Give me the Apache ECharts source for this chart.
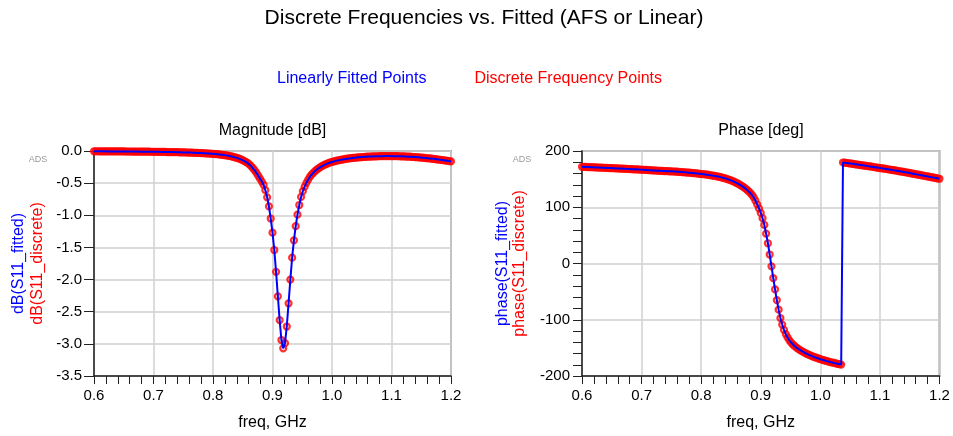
<!DOCTYPE html>
<html><head><meta charset="utf-8">
<script src="https://cdn.jsdelivr.net/npm/echarts@6/dist/echarts.min.js"></script>
<style>html,body{margin:0;padding:0;background:#fff}#c{width:953px;height:436px}</style>
</head><body><div id="c"></div>
<script>
// Frequencies, GHz
const freq = [
0.600,0.603,0.606,0.609,0.612,0.615,0.618,0.621,0.624,0.627,
0.630,0.633,0.636,0.639,0.642,0.645,0.648,0.651,0.654,0.657,
0.660,0.663,0.666,0.669,0.672,0.675,0.678,0.681,0.684,0.687,
0.690,0.693,0.696,0.699,0.702,0.705,0.708,0.711,0.714,0.717,
0.720,0.723,0.726,0.729,0.732,0.735,0.738,0.741,0.744,0.747,
0.750,0.753,0.756,0.759,0.762,0.765,0.768,0.771,0.774,0.777,
0.780,0.783,0.786,0.789,0.792,0.795,0.798,0.801,0.804,0.807,
0.810,0.813,0.816,0.819,0.822,0.825,0.828,0.831,0.834,0.837,
0.840,0.843,0.846,0.849,0.852,0.855,0.858,0.861,0.864,0.867,
0.870,0.873,0.876,0.879,0.882,0.885,0.888,0.891,0.894,0.897,
0.900,0.903,0.906,0.909,0.912,0.915,0.918,0.921,0.924,0.927,
0.930,0.933,0.936,0.939,0.942,0.945,0.948,0.951,0.954,0.957,
0.960,0.963,0.966,0.969,0.972,0.975,0.978,0.981,0.984,0.987,
0.990,0.993,0.996,0.999,1.002,1.005,1.008,1.011,1.014,1.017,
1.020,1.023,1.026,1.029,1.032,1.035,1.038,1.041,1.044,1.047,
1.050,1.053,1.056,1.059,1.062,1.065,1.068,1.071,1.074,1.077,
1.080,1.083,1.086,1.089,1.092,1.095,1.098,1.101,1.104,1.107,
1.110,1.113,1.116,1.119,1.122,1.125,1.128,1.131,1.134,1.137,
1.140,1.143,1.146,1.149,1.152,1.155,1.158,1.161,1.164,1.167,
1.170,1.173,1.176,1.179,1.182,1.185,1.188,1.191,1.194,1.197,
1.200];

// dB(S11) values
const magDb = [
-0.004,-0.004,-0.004,-0.005,-0.005,-0.005,-0.005,-0.005,-0.006,-0.006,
-0.006,-0.006,-0.006,-0.007,-0.007,-0.007,-0.007,-0.007,-0.008,-0.008,
-0.008,-0.008,-0.009,-0.009,-0.009,-0.009,-0.010,-0.010,-0.010,-0.011,
-0.011,-0.011,-0.012,-0.012,-0.012,-0.013,-0.013,-0.014,-0.014,-0.015,
-0.015,-0.016,-0.016,-0.017,-0.017,-0.018,-0.019,-0.019,-0.020,-0.021,
-0.022,-0.022,-0.023,-0.024,-0.025,-0.026,-0.027,-0.028,-0.030,-0.031,
-0.032,-0.034,-0.035,-0.037,-0.039,-0.041,-0.043,-0.045,-0.048,-0.050,
-0.053,-0.056,-0.060,-0.064,-0.068,-0.073,-0.078,-0.084,-0.091,-0.098,
-0.107,-0.116,-0.127,-0.139,-0.153,-0.168,-0.186,-0.208,-0.235,-0.265,
-0.300,-0.340,-0.385,-0.430,-0.475,-0.525,-0.610,-0.720,-0.860,-1.050,
-1.270,-1.540,-1.880,-2.260,-2.630,-2.940,-3.070,-2.990,-2.730,-2.370,
-2.000,-1.660,-1.390,-1.170,-0.990,-0.840,-0.715,-0.625,-0.555,-0.495,
-0.445,-0.400,-0.365,-0.335,-0.308,-0.285,-0.265,-0.247,-0.231,-0.217,
-0.204,-0.192,-0.182,-0.173,-0.165,-0.157,-0.150,-0.144,-0.138,-0.133,
-0.128,-0.123,-0.119,-0.115,-0.111,-0.108,-0.105,-0.102,-0.099,-0.097,
-0.095,-0.093,-0.091,-0.089,-0.087,-0.086,-0.085,-0.084,-0.083,-0.082,
-0.081,-0.080,-0.080,-0.079,-0.079,-0.079,-0.079,-0.079,-0.080,-0.080,
-0.081,-0.082,-0.083,-0.084,-0.085,-0.086,-0.088,-0.089,-0.091,-0.093,
-0.095,-0.097,-0.099,-0.102,-0.104,-0.107,-0.110,-0.113,-0.116,-0.119,
-0.122,-0.125,-0.129,-0.132,-0.136,-0.140,-0.144,-0.148,-0.152,-0.157,
-0.162];

// phase(S11) values, degrees
const phaseDeg = [
172.0,171.8,171.7,171.5,171.4,171.2,171.1,170.9,170.8,170.6,
170.5,170.3,170.2,170.0,169.9,169.7,169.6,169.4,169.3,169.1,
169.0,168.8,168.7,168.5,168.3,168.2,168.0,167.8,167.7,167.5,
167.4,167.2,167.0,166.8,166.7,166.5,166.3,166.1,165.9,165.7,
165.5,165.3,165.1,164.9,164.7,164.5,164.4,164.2,164.1,163.9,
163.8,163.6,163.4,163.2,163.0,162.7,162.5,162.2,162.0,161.7,
161.4,161.1,160.8,160.5,160.2,159.8,159.5,159.1,158.7,158.3,
157.9,157.4,156.9,156.4,155.8,155.2,154.6,153.9,153.1,152.3,
151.4,150.4,149.3,148.1,146.8,145.4,143.9,142.3,140.6,138.7,
136.6,134.3,131.8,129.0,125.9,122.4,118.0,112.0,105.0,98.0,
90.0,80.5,68.5,53.0,36.0,16.0,-5.0,-26.0,-46.0,-65.0,
-82.0,-97.0,-108.5,-118.0,-125.5,-131.5,-136.5,-140.5,-144.0,-147.0,
-149.5,-151.8,-153.9,-155.8,-157.6,-159.3,-160.9,-162.4,-163.8,-165.1,
-166.3,-167.5,-168.6,-169.7,-170.7,-171.7,-172.6,-173.5,-174.4,-175.2,
-176.0,-176.8,-177.6,-178.3,-179.0,-179.7,179.6,179.2,178.7,178.3,
177.8,177.4,176.9,176.4,176.0,175.5,175.0,174.6,174.1,173.6,
173.1,172.6,172.1,171.6,171.1,170.6,170.1,169.6,169.1,168.6,
168.1,167.6,167.1,166.6,166.0,165.5,165.0,164.4,163.9,163.3,
162.8,162.2,161.6,161.0,160.4,159.8,159.2,158.6,158.0,157.4,
156.8,156.2,155.6,154.9,154.3,153.7,153.1,152.5,151.9,151.3,
150.7];

const FONT = "'Liberation Sans', Arial, Helvetica, sans-serif";
const BLUE = '#0000ff', RED = '#ff0000';

function pairs(ys) { return freq.map((f, i) => [f, ys[i]]); }

function xAxisCfg(idx) {
  return {
    type: 'value', gridIndex: idx, min: 0.6, max: 1.2, interval: 0.1,
    axisLine: { show: true, onZero: false, lineStyle: { color: '#222', width: 1.5 } },
    axisTick: { show: true, length: 8, lineStyle: { color: '#222', width: 1 } },
    minorTick: { show: true, splitNumber: 5, length: 8, lineStyle: { color: '#222', width: 1 } },
    splitLine: { show: true, lineStyle: { color: '#d0d0d0', width: 1.5 } },
    axisLabel: { formatter: v => v.toFixed(1), fontSize: 15, color: '#000', margin: 12, fontFamily: FONT },
    name: 'freq, GHz', nameLocation: 'middle', nameGap: 39,
    nameTextStyle: { fontSize: 16, color: '#000', fontFamily: FONT }
  };
}

const markerStyle = { color: 'rgba(255,0,0,0.15)', borderColor: RED, borderWidth: 2.2 };

const chart = echarts.init(document.getElementById('c'), null, { renderer: 'canvas' });
const option = {
  animation: false,
  backgroundColor: '#fff',
  textStyle: { fontFamily: FONT },
  legend: {
    left: 267, top: 66, icon: 'none', itemWidth: 0, itemHeight: 16, itemGap: 43,
    selectedMode: false,
    textStyle: { fontSize: 16, fontFamily: FONT },
    data: [
      { name: 'Linearly Fitted Points', textStyle: { color: BLUE } },
      { name: 'Discrete Frequency Points', textStyle: { color: RED } }
    ]
  },
  graphic: [
    { type: 'text', x: 484, y: 18, style: { text: 'Discrete Frequencies vs. Fitted (AFS or Linear)', fontSize: 21, fontFamily: FONT, fill: '#000', textAlign: 'center', textVerticalAlign: 'middle' } },
    { type: 'text', x: 272.5, y: 131, style: { text: 'Magnitude [dB]', fontSize: 16, fontFamily: FONT, fill: '#000', textAlign: 'center', textVerticalAlign: 'middle' } },
    { type: 'text', x: 761, y: 131, style: { text: 'Phase [deg]', fontSize: 16, fontFamily: FONT, fill: '#000', textAlign: 'center', textVerticalAlign: 'middle' } },
    { type: 'text', x: 38, y: 160, style: { text: 'ADS', fontSize: 9, fontFamily: FONT, fill: '#9a9a9a', textAlign: 'center', textVerticalAlign: 'middle' } },
    { type: 'text', x: 522, y: 160, style: { text: 'ADS', fontSize: 9, fontFamily: FONT, fill: '#9a9a9a', textAlign: 'center', textVerticalAlign: 'middle' } }
  ],
  grid: [
    { left: 94, top: 151, width: 357, height: 226, show: true, borderColor: '#9a9a9a', borderWidth: 2, backgroundColor: 'transparent' },
    { left: 582, top: 151, width: 357.5, height: 226, show: true, borderColor: '#9a9a9a', borderWidth: 2, backgroundColor: 'transparent' }
  ],
  xAxis: [xAxisCfg(0), xAxisCfg(1)],
  yAxis: [
    {
      type: 'value', gridIndex: 0, min: -3.5, max: 0, interval: 0.5,
      axisLine: { show: true, onZero: false, lineStyle: { color: '#222', width: 1.5 } },
      axisTick: { show: true, length: 10, lineStyle: { color: '#222', width: 1 } },
      splitLine: { show: true, lineStyle: { color: '#d0d0d0', width: 1.5 } },
      axisLabel: { formatter: v => v.toFixed(1), fontSize: 15, color: '#000', margin: 12, fontFamily: FONT },
      name: '{b|dB(S11_fitted)}\n{r|dB(S11_discrete)}',
      nameLocation: 'middle', nameRotate: 90, nameGap: 47,
      nameTextStyle: { fontFamily: FONT, rich: {
        b: { color: BLUE, fontSize: 16, lineHeight: 19, fontFamily: FONT },
        r: { color: RED, fontSize: 16, lineHeight: 19, fontFamily: FONT } } }
    },
    {
      type: 'value', gridIndex: 1, min: -200, max: 200, interval: 100,
      axisLine: { show: true, onZero: false, lineStyle: { color: '#222', width: 1.5 } },
      axisTick: { show: true, length: 9, lineStyle: { color: '#222', width: 1 } },
      minorTick: { show: true, splitNumber: 5, length: 9, lineStyle: { color: '#222', width: 1 } },
      splitLine: { show: true, lineStyle: { color: '#d0d0d0', width: 1.5 } },
      axisLabel: { fontSize: 15, color: '#000', margin: 12, fontFamily: FONT },
      name: '{b|phase(S11_fitted)}\n{r|phase(S11_discrete)}',
      nameLocation: 'middle', nameRotate: 90, nameGap: 54,
      nameTextStyle: { fontFamily: FONT, rich: {
        b: { color: BLUE, fontSize: 16, lineHeight: 17, fontFamily: FONT },
        r: { color: RED, fontSize: 16, lineHeight: 17, fontFamily: FONT } } }
    }
  ],
  series: [
    {
      name: 'Discrete Frequency Points', type: 'scatter', xAxisIndex: 0, yAxisIndex: 0,
      data: pairs(magDb), symbol: 'circle', symbolSize: 6, clip: false, z: 2,
      itemStyle: markerStyle
    },
    {
      name: 'Linearly Fitted Points', type: 'line', xAxisIndex: 0, yAxisIndex: 0,
      data: pairs(magDb), showSymbol: false, z: 3, color: BLUE,
      lineStyle: { color: BLUE, width: 2 }
    },
    {
      name: 'Discrete Frequency Points', type: 'scatter', xAxisIndex: 1, yAxisIndex: 1,
      data: pairs(phaseDeg), symbol: 'circle', symbolSize: 6, clip: false, z: 2,
      itemStyle: markerStyle
    },
    {
      name: 'Linearly Fitted Points', type: 'line', xAxisIndex: 1, yAxisIndex: 1,
      data: pairs(phaseDeg), showSymbol: false, z: 3, color: BLUE,
      lineStyle: { color: BLUE, width: 2 }
    }
  ]
};
chart.setOption(option);
</script>
</body></html>
